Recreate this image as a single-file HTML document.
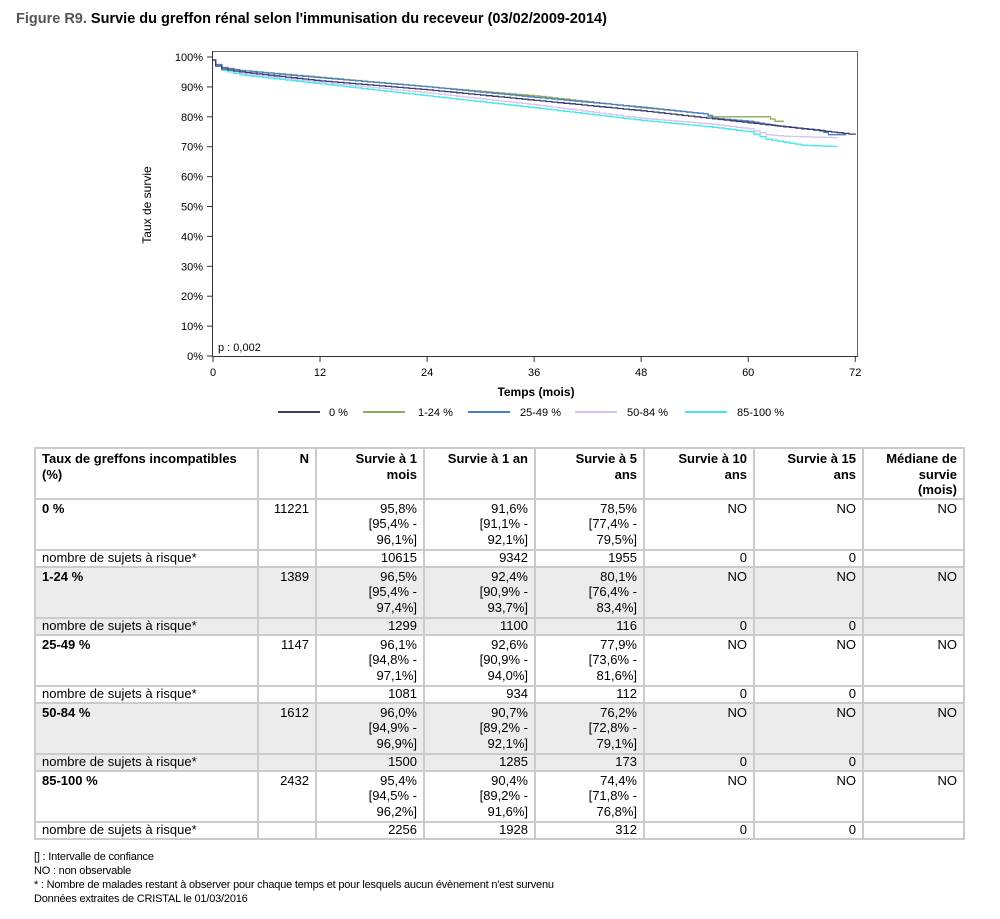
<!DOCTYPE html>
<html><head><meta charset="utf-8">
<style>
body{margin:0;background:#fff;font-family:"Liberation Sans",Arial,sans-serif;color:#000;}
#wrap{position:relative;width:1000px;height:919px;overflow:hidden;}
.title{position:absolute;left:16px;top:11px;font-size:14.5px;font-weight:bold;}
.title span{color:#555;}
table{position:absolute;left:34px;top:447px;border-collapse:collapse;font-size:13px;table-layout:fixed;}
td{border:2px solid #cbcbcb;padding:1px 6px 0 6px;vertical-align:top;text-align:right;line-height:15.5px;white-space:nowrap;overflow:hidden;box-sizing:border-box;}
td.l{text-align:left;}
tr.h td{height:48px;font-weight:bold;padding-top:2px;}
tr.d td{height:51px;}
tr.n td{height:17px;line-height:14px;padding-top:0;}
tr.g td{background:#ececec;}
.foot{position:absolute;left:34px;top:850px;font-size:11px;line-height:14px;letter-spacing:-0.2px;}
</style></head><body><div id="wrap">
<div class="title"><span>Figure R9.</span> Survie du greffon rénal selon l'immunisation du receveur (03/02/2009-2014)</div>
<svg width="1000" height="440" style="position:absolute;left:0;top:0" font-family="Liberation Sans, Arial, sans-serif">
<rect x="212.5" y="51.5" width="645" height="305" fill="none" stroke="#666" stroke-width="1"/>
<line x1="212.5" y1="51" x2="212.5" y2="357" stroke="#333"/>
<line x1="212" y1="356.5" x2="858" y2="356.5" stroke="#333"/>
<g id="yt" font-size="11" text-anchor="end" fill="#000"></g>
<g id="xt" font-size="11" text-anchor="middle" fill="#000"></g>
<text x="151" y="205" font-size="12" transform="rotate(-90 151 205)" text-anchor="middle">Taux de survie</text>
<text x="536" y="396" font-size="12" font-weight="bold" text-anchor="middle">Temps (mois)</text>
<text x="218" y="351" font-size="11">p : 0,002</text>
<g id="curves" fill="none" stroke-width="1.3"></g>
<g font-size="11">
<line x1="278" y1="412" x2="320" y2="412" stroke="#3d3b6e" stroke-width="2"/><text x="329" y="416">0 %</text>
<line x1="363" y1="412" x2="405" y2="412" stroke="#8faa55" stroke-width="2"/><text x="418" y="416">1-24 %</text>
<line x1="468" y1="412" x2="510" y2="412" stroke="#4a80c0" stroke-width="2"/><text x="520" y="416">25-49 %</text>
<line x1="575" y1="412" x2="617" y2="412" stroke="#d9c3ef" stroke-width="2"/><text x="627" y="416">50-84 %</text>
<line x1="685" y1="412" x2="727" y2="412" stroke="#40e8e8" stroke-width="2"/><text x="737" y="416">85-100 %</text>
</g>
</svg>
<table>
<colgroup><col style="width:223px"><col style="width:58px"><col style="width:108px"><col style="width:111px"><col style="width:109px"><col style="width:110px"><col style="width:109px"><col style="width:101px"></colgroup>
<tr class="h"><td class="l">Taux de greffons incompatibles<br>(%)</td><td>N</td><td>Survie à 1<br>mois</td><td>Survie à 1 an</td><td>Survie à 5<br>ans</td><td>Survie à 10<br>ans</td><td>Survie à 15<br>ans</td><td>Médiane de<br>survie<br>(mois)</td></tr>
<tr class="d"><td class="l"><b>0 %</b></td><td>11221</td><td>95,8%<br>[95,4% -<br>96,1%]</td><td>91,6%<br>[91,1% -<br>92,1%]</td><td>78,5%<br>[77,4% -<br>79,5%]</td><td>NO</td><td>NO</td><td>NO</td></tr>
<tr class="n"><td class="l">nombre de sujets à risque*</td><td></td><td>10615</td><td>9342</td><td>1955</td><td>0</td><td>0</td><td></td></tr>
<tr class="d g"><td class="l"><b>1-24 %</b></td><td>1389</td><td>96,5%<br>[95,4% -<br>97,4%]</td><td>92,4%<br>[90,9% -<br>93,7%]</td><td>80,1%<br>[76,4% -<br>83,4%]</td><td>NO</td><td>NO</td><td>NO</td></tr>
<tr class="n g"><td class="l">nombre de sujets à risque*</td><td></td><td>1299</td><td>1100</td><td>116</td><td>0</td><td>0</td><td></td></tr>
<tr class="d"><td class="l"><b>25-49 %</b></td><td>1147</td><td>96,1%<br>[94,8% -<br>97,1%]</td><td>92,6%<br>[90,9% -<br>94,0%]</td><td>77,9%<br>[73,6% -<br>81,6%]</td><td>NO</td><td>NO</td><td>NO</td></tr>
<tr class="n"><td class="l">nombre de sujets à risque*</td><td></td><td>1081</td><td>934</td><td>112</td><td>0</td><td>0</td><td></td></tr>
<tr class="d g"><td class="l"><b>50-84 %</b></td><td>1612</td><td>96,0%<br>[94,9% -<br>96,9%]</td><td>90,7%<br>[89,2% -<br>92,1%]</td><td>76,2%<br>[72,8% -<br>79,1%]</td><td>NO</td><td>NO</td><td>NO</td></tr>
<tr class="n g"><td class="l">nombre de sujets à risque*</td><td></td><td>1500</td><td>1285</td><td>173</td><td>0</td><td>0</td><td></td></tr>
<tr class="d"><td class="l"><b>85-100 %</b></td><td>2432</td><td>95,4%<br>[94,5% -<br>96,2%]</td><td>90,4%<br>[89,2% -<br>91,6%]</td><td>74,4%<br>[71,8% -<br>76,8%]</td><td>NO</td><td>NO</td><td>NO</td></tr>
<tr class="n"><td class="l">nombre de sujets à risque*</td><td></td><td>2256</td><td>1928</td><td>312</td><td>0</td><td>0</td><td></td></tr>
</table>
<div class="foot">[] : Intervalle de confiance<br>NO : non observable<br>* : Nombre de malades restant à observer pour chaque temps et pour lesquels aucun évènement n'est survenu<br>Données extraites de CRISTAL le 01/03/2016</div>
</div>
<script>
var NS="http://www.w3.org/2000/svg";
function X(t){return 213+t*8.92;}function Y(p){return 356-2.99*p;}
var yt=document.getElementById('yt');
for(var i=0;i<=10;i++){var y=Y(i*10);
var l=document.createElementNS(NS,'line');l.setAttribute('x1',207);l.setAttribute('x2',212);l.setAttribute('y1',y);l.setAttribute('y2',y);l.setAttribute('stroke','#333');yt.appendChild(l);
var t=document.createElementNS(NS,'text');t.setAttribute('x',203);t.setAttribute('y',y+4);t.textContent=(i*10)+'%';yt.appendChild(t);}
var xt=document.getElementById('xt');
for(var i=0;i<=6;i++){var x=X(i*12);
var l=document.createElementNS(NS,'line');l.setAttribute('x1',x);l.setAttribute('x2',x);l.setAttribute('y1',357);l.setAttribute('y2',362);l.setAttribute('stroke','#333');xt.appendChild(l);
var t=document.createElementNS(NS,'text');t.setAttribute('x',x);t.setAttribute('y',376);t.textContent=i*12;xt.appendChild(t);}
var S=[
['#d9c3ef',[[0,99],[0.3,97],[1,96],[3,94.5],[12,91.5],[24,88],[36,84],[48,79.5],[56,77.5],[60,76],[62,74],[64,73.5],[70,73]]],
['#40e8e8',[[0,99],[0.3,97],[1,95.5],[3,94],[12,91],[24,87],[36,83],[48,78.8],[56,76.5],[60,75],[62,72.5],[64,71.5],[66,70.5],[70,70]]],
['#8faa55',[[0,99],[0.3,97.5],[1,96.5],[3,95.5],[12,93.2],[24,90],[36,87],[48,83],[55,81],[56,80],[62,80],[63,78.5],[64,78.5]]],
['#4a80c0',[[0,99],[0.3,97.5],[1,96.5],[3,95.5],[12,93],[24,90],[36,86.5],[48,83.2],[55,81],[56,79.5],[60,78.5],[63,77],[68,75.5],[69,74],[71,74]]],
['#3d3b6e',[[0,99],[0.3,97],[1,96],[3,95],[12,92],[24,89],[36,85.5],[48,82],[60,78],[72,74]]]];
var g=document.getElementById('curves');
S.forEach(function(s){var pts=[],d=s[1];
for(var k=0;k<d.length-1;k++){var a=d[k],b=d[k+1];var n=Math.max(1,Math.round((b[0]-a[0])*1.5));
for(var j=0;j<n;j++){var t0=a[0]+(b[0]-a[0])*j/n,t1=a[0]+(b[0]-a[0])*(j+1)/n;var p=a[1]+(b[1]-a[1])*j/n;
pts.push(X(t0).toFixed(1)+','+Y(p).toFixed(1));pts.push(X(t1).toFixed(1)+','+Y(p).toFixed(1));}}
var last=d[d.length-1];pts.push(X(last[0]).toFixed(1)+','+Y(last[1]).toFixed(1));
var pl=document.createElementNS(NS,'polyline');pl.setAttribute('points',pts.join(' '));pl.setAttribute('stroke',s[0]);g.appendChild(pl);});
</script>
</body></html>
